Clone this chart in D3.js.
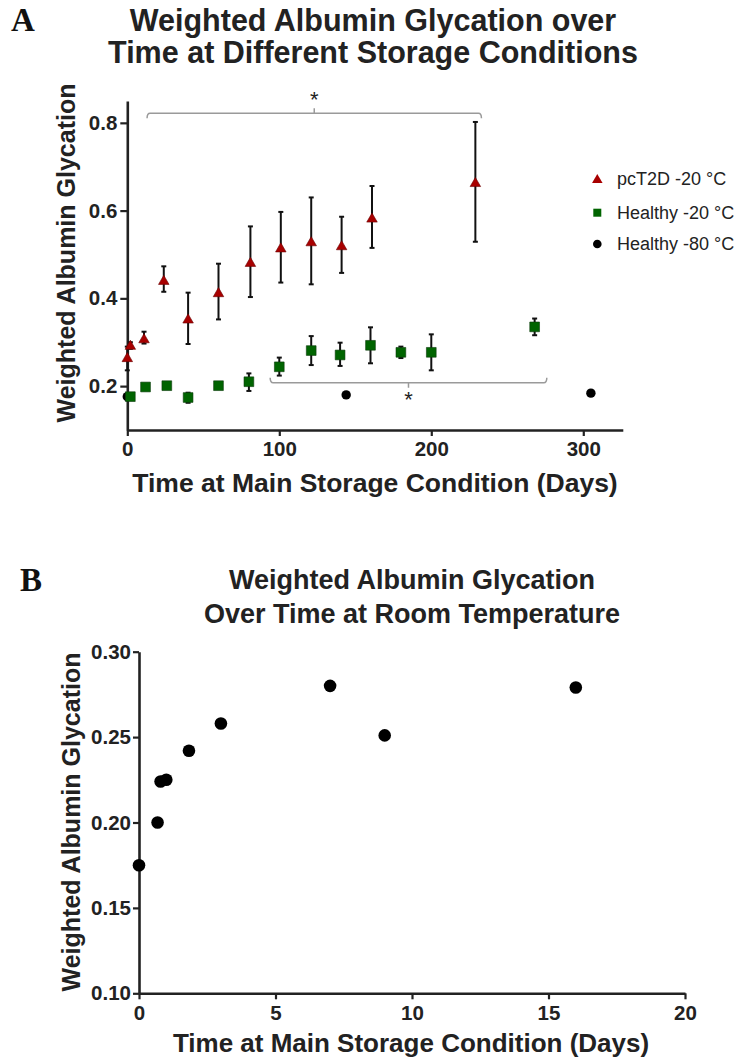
<!DOCTYPE html>
<html>
<head>
<meta charset="utf-8">
<script src="https://cdn.jsdelivr.net/npm/d3@7/dist/d3.min.js"></script>
<style>
  html, body { margin: 0; padding: 0; background: #fff; }
  svg { display: block; }
  text { font-family: "Liberation Sans", Arial, sans-serif; }
  text.panel { font-family: "Liberation Serif", "Times New Roman", serif; }
</style>
</head>
<body>
<svg id="chart" width="737" height="1059"></svg>
<script>
// ---------- Panel A data ----------
const pcT2D_days  = [0, 2, 11, 24, 40, 60, 81, 101, 121, 141, 161, 229];
const pcT2D_mean  = [0.265, 0.293, 0.308, 0.441, 0.353, 0.413, 0.482, 0.515, 0.529, 0.520, 0.583, 0.664];
const pcT2D_low   = [0.236, 0.285, 0.297, 0.415, 0.296, 0.352, 0.403, 0.436, 0.432, 0.458, 0.515, 0.529];
const pcT2D_high  = [0.290, 0.300, 0.324, 0.473, 0.413, 0.479, 0.564, 0.597, 0.630, 0.586, 0.656, 0.802];

const h20_days = [2, 12, 26, 40, 60, 80, 100, 121, 140, 160, 180, 200, 268];
const h20_mean = [0.176, 0.198, 0.201, 0.174, 0.201, 0.210, 0.244, 0.281, 0.271, 0.293, 0.277, 0.277, 0.335];
const h20_low  = [0.176, 0.198, 0.194, 0.162, 0.201, 0.189, 0.224, 0.248, 0.246, 0.252, 0.264, 0.236, 0.316];
const h20_high = [0.176, 0.198, 0.208, 0.185, 0.201, 0.229, 0.265, 0.314, 0.299, 0.334, 0.290, 0.318, 0.354];

const h80_days = [0, 144, 305];
const h80_mean = [0.176, 0.180, 0.184];

const aXTicks = [0, 100, 200, 300];
const aYTicks = [0.2, 0.4, 0.6, 0.8];
const legendLabels = ["pcT2D -20 °C", "Healthy -20 °C", "Healthy -80 °C"];

// significance brackets (day ranges)
const bracketTop = [13, 233];
const bracketBottom = [94, 276];

// ---------- Panel B data ----------
const rtDays  = [0, 0.68, 0.79, 1.0, 1.83, 3.0, 7.0, 9.0, 16.0];
const rtValue = [0.175, 0.200, 0.224, 0.225, 0.242, 0.258, 0.280, 0.251, 0.279];
const bXTicks = [0, 5, 10, 15, 20];
const bYTicks = [0.10, 0.15, 0.20, 0.25, 0.30];

const svg = d3.select("#chart");
const AXIS = "#222";
const RED = "#a80000";
const GREEN = "#006400";

function styleAxis(g) {
  g.select(".domain").attr("stroke", AXIS).attr("stroke-width", 2.6);
  g.selectAll(".tick line").attr("stroke", AXIS).attr("stroke-width", 2.2);
  g.selectAll(".tick text").attr("fill", "#222").attr("font-weight", "bold")
    .attr("font-size", 20.5).attr("font-family", "Liberation Sans, Arial, sans-serif");
}

// ================= Panel A =================
const xA = d3.scaleLinear().domain([0, 326]).range([127.3, 622.8]);
const yA = d3.scaleLinear().domain([0.1, 0.85]).range([430, 100.9]);

svg.append("text").attr("class", "panel").attr("x", 11).attr("y", 31).text("A")
  .attr("font-weight", "bold").attr("font-size", 33).attr("fill", "#111");

const titleA = svg.append("text").attr("text-anchor", "middle")
  .attr("font-weight", "bold").attr("font-size", 30.5).attr("fill", "#222");
titleA.append("tspan").attr("x", 373).attr("y", 31).text("Weighted Albumin Glycation over");
titleA.append("tspan").attr("x", 373).attr("y", 63).text("Time at Different Storage Conditions");

svg.append("g").attr("transform", `translate(0,${yA(0.1)})`)
  .call(d3.axisBottom(xA).tickValues(aXTicks).tickSize(6).tickPadding(5).tickSizeOuter(0))
  .call(styleAxis);
svg.append("g").attr("transform", `translate(${xA(0)},0)`)
  .call(d3.axisLeft(yA).tickValues(aYTicks).tickFormat(d3.format(".1f")).tickSize(7).tickPadding(3).tickSizeOuter(0))
  .call(styleAxis);

svg.append("text").attr("x", 375).attr("y", 492).attr("text-anchor", "middle")
  .attr("font-weight", "bold").attr("font-size", 26.5).attr("fill", "#222")
  .text("Time at Main Storage Condition (Days)");
svg.append("text").attr("transform", `translate(75,253) rotate(-90)`).attr("text-anchor", "middle")
  .attr("font-weight", "bold").attr("font-size", 25).attr("fill", "#222")
  .text("Weighted Albumin Glycation");

// brackets
function bracket(range, yPix, dir, starDy) {
  const x1 = xA(range[0]), x2 = xA(range[1]), xm = (x1 + x2) / 2;
  const p = d3.path();
  p.moveTo(x1, yPix + dir * 5); p.quadraticCurveTo(x1, yPix, x1 + 3, yPix);
  p.lineTo(x2 - 3, yPix); p.quadraticCurveTo(x2, yPix, x2, yPix + dir * 5);
  p.moveTo(xm, yPix); p.lineTo(xm, yPix - dir * 5);
  svg.append("path").attr("d", p.toString()).attr("fill", "none")
    .attr("stroke", "#9a9a9a").attr("stroke-width", 1.5);
  svg.append("text").attr("x", xm).attr("y", yPix + starDy).attr("text-anchor", "middle")
    .attr("font-size", 22).attr("fill", "#222").text("*");
}
bracket(bracketTop, 113.3, 1, -6);
bracket(bracketBottom, 382.7, -1, 24);

// error bars
function errBars(days, low, high) {
  const g = svg.append("g").attr("stroke", "#111").attr("stroke-width", 2);
  days.forEach((d, i) => {
    if (high[i] - low[i] < 0.001) return;
    const x = xA(d);
    g.append("line").attr("x1", x).attr("x2", x).attr("y1", yA(low[i])).attr("y2", yA(high[i]));
    g.append("line").attr("x1", x - 2.5).attr("x2", x + 2.5).attr("y1", yA(low[i])).attr("y2", yA(low[i]));
    g.append("line").attr("x1", x - 2.5).attr("x2", x + 2.5).attr("y1", yA(high[i])).attr("y2", yA(high[i]));
  });
}
errBars(h20_days, h20_low, h20_high);
errBars(pcT2D_days, pcT2D_low, pcT2D_high);

const tri = d3.symbol().type(d3.symbolTriangle).size(48);
const sq = d3.symbol().type(d3.symbolSquare).size(95);

// healthy -80 dots
svg.append("g").selectAll("circle").data(h80_days).join("circle")
  .attr("cx", d => xA(d)).attr("cy", (d, i) => yA(h80_mean[i])).attr("r", 4.7).attr("fill", "#000");
// healthy -20 squares
svg.append("g").selectAll("path").data(h20_days).join("path")
  .attr("d", sq).attr("transform", (d, i) => `translate(${xA(d)},${yA(h20_mean[i])})`)
  .attr("fill", GREEN).attr("stroke", "#0c3a0c").attr("stroke-width", 0.6);
// pcT2D triangles
svg.append("g").selectAll("path").data(pcT2D_days).join("path")
  .attr("d", tri).attr("transform", (d, i) => `translate(${xA(d)},${yA(pcT2D_mean[i]) + 1})`)
  .attr("fill", RED).attr("stroke", "#6a0000").attr("stroke-width", 0.6);

// legend
const legY = [179, 212.7, 244];
const legX = 597.3;
svg.append("path").attr("d", tri).attr("transform", `translate(${legX},${legY[0] + 1})`).attr("fill", RED);
svg.append("path").attr("d", d3.symbol().type(d3.symbolSquare).size(64)).attr("transform", `translate(${legX},${legY[1]})`).attr("fill", GREEN);
svg.append("circle").attr("cx", legX).attr("cy", legY[2]).attr("r", 4.3).attr("fill", "#000");
legendLabels.forEach((t, i) => {
  svg.append("text").attr("x", 617).attr("y", legY[i]).attr("dy", "0.35em")
    .attr("font-size", 18).attr("fill", "#222").text(t);
});

// ================= Panel B =================
const xB = d3.scaleLinear().domain([0, 20]).range([139, 685]);
const yB = d3.scaleLinear().domain([0.10, 0.30]).range([993.3, 651.7]);

svg.append("text").attr("class", "panel").attr("x", 20).attr("y", 591).text("B")
  .attr("font-weight", "bold").attr("font-size", 33).attr("fill", "#111");

const titleB = svg.append("text").attr("text-anchor", "middle")
  .attr("font-weight", "bold").attr("font-size", 27).attr("fill", "#222");
titleB.append("tspan").attr("x", 412).attr("y", 589).text("Weighted Albumin Glycation");
titleB.append("tspan").attr("x", 412).attr("y", 623).text("Over Time at Room Temperature");

svg.append("g").attr("transform", `translate(0,${yB(0.10)})`)
  .call(d3.axisBottom(xB).tickValues(bXTicks).tickSize(6).tickPadding(6).tickSizeOuter(0))
  .call(styleAxis);
svg.append("g").attr("transform", `translate(${xB(0)},0)`)
  .call(d3.axisLeft(yB).tickValues(bYTicks).tickFormat(d3.format(".2f")).tickSize(6).tickPadding(2).tickSizeOuter(0))
  .call(styleAxis);

svg.append("text").attr("x", 411).attr("y", 1052).attr("text-anchor", "middle")
  .attr("font-weight", "bold").attr("font-size", 26).attr("fill", "#222")
  .text("Time at Main Storage Condition (Days)");
svg.append("text").attr("transform", `translate(80,822) rotate(-90)`).attr("text-anchor", "middle")
  .attr("font-weight", "bold").attr("font-size", 25).attr("fill", "#222")
  .text("Weighted Albumin Glycation");

svg.append("g").selectAll("circle").data(rtDays).join("circle")
  .attr("cx", d => xB(d)).attr("cy", (d, i) => yB(rtValue[i])).attr("r", 6.3).attr("fill", "#000");
</script>
</body>
</html>
